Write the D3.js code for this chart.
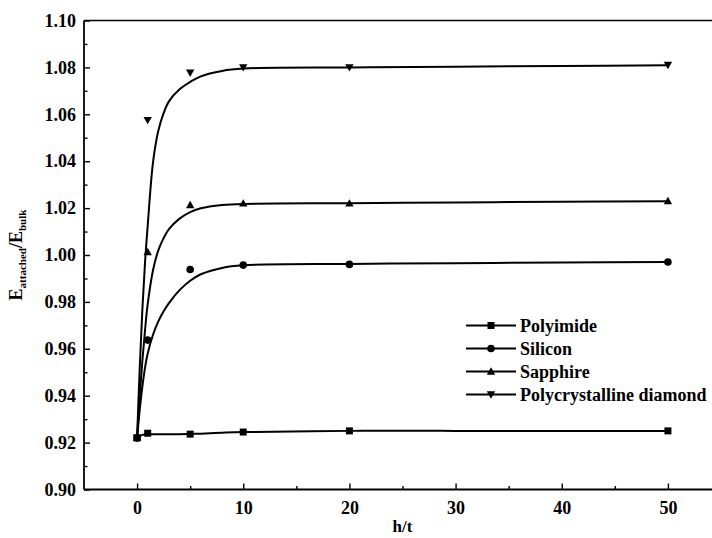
<!DOCTYPE html>
<html>
<head>
<meta charset="utf-8">
<script src="https://cdn.jsdelivr.net/npm/d3@7"></script>
<style>
  html, body { margin: 0; padding: 0; background: #fff; }
  svg { display: block; }
  svg text { font-family: "Times New Roman", Tinos, "Liberation Serif", "DejaVu Serif", serif !important; font-weight: bold; fill: #000; }
</style>
</head>
<body>
<svg id="chart" width="712" height="538"></svg>
<script>
// ---- data ----
const seriesNames = ["Polyimide", "Silicon", "Sapphire", "Polycrystalline diamond"];
const xValues = [0, 1, 5, 10, 20, 50];
const polyimide = [0.922, 0.924, 0.9236, 0.9245, 0.925, 0.925];
const silicon   = [0.922, 0.9637, 0.9938, 0.9957, 0.996, 0.997];
const sapphire  = [0.922, 1.0013, 1.0213, 1.022, 1.022, 1.023];
const diamond   = [0.922, 1.0575, 1.0777, 1.080, 1.080, 1.081];

// fitted curves, sampled by eye along the drawn lines
const fitX = [0, 0.25, 0.5, 0.75, 1, 1.5, 2, 2.5, 3, 4, 5, 6, 8, 10, 20, 30, 40, 50];
const polyimideFit = [0.922, 0.9228, 0.9233, 0.9235, 0.9236, 0.9236, 0.9236, 0.9236, 0.9236, 0.9236, 0.9237, 0.9238, 0.9242, 0.9245, 0.925, 0.925, 0.925, 0.925];
const siliconFit   = [0.922, 0.934, 0.944, 0.952, 0.958, 0.966, 0.9717, 0.976, 0.9795, 0.985, 0.989, 0.9918, 0.9945, 0.9956, 0.9962, 0.9965, 0.9968, 0.997];
const sapphireFit  = [0.922, 0.940, 0.955, 0.968, 0.979, 0.9935, 1.002, 1.0072, 1.011, 1.0155, 1.0183, 1.0199, 1.0213, 1.0218, 1.0221, 1.0224, 1.0227, 1.0229];
const diamondFit   = [0.922, 0.952, 0.977, 0.997, 1.0125, 1.0395, 1.0530, 1.0605, 1.0655, 1.0707, 1.0738, 1.0762, 1.0785, 1.0795, 1.0800, 1.0803, 1.0806, 1.0809];

const xMajorTicks = [0, 10, 20, 30, 40, 50];
const xMinorTicks = [5, 15, 25, 35, 45];
const yMajorTicks = [0.90, 0.92, 0.94, 0.96, 0.98, 1.00, 1.02, 1.04, 1.06, 1.08, 1.10];
const yMinorTicks = [0.91, 0.93, 0.95, 0.97, 0.99, 1.01, 1.03, 1.05, 1.07, 1.09];
const xTitle = "h/t";

// ---- layout ----
const svg = d3.select("#chart");
const x = d3.scaleLinear().domain([-5, 55]).range([84, 721]);
const y = d3.scaleLinear().domain([0.90, 1.10]).range([489.5, 20.5]);

const series = [
  { name: seriesNames[0], vals: polyimide, fit: polyimideFit, sym: "square" },
  { name: seriesNames[1], vals: silicon,   fit: siliconFit,   sym: "circle" },
  { name: seriesNames[2], vals: sapphire,  fit: sapphireFit,  sym: "up" },
  { name: seriesNames[3], vals: diamond,   fit: diamondFit,   sym: "down" }
];

function marker(g, sym, cx, cy) {
  if (sym === "square") {
    g.append("rect").attr("x", cx - 3.5).attr("y", cy - 3.5).attr("width", 7).attr("height", 7).attr("fill", "#000");
  } else if (sym === "circle") {
    g.append("circle").attr("cx", cx).attr("cy", cy).attr("r", 3.8).attr("fill", "#000");
  } else if (sym === "up") {
    g.append("path").attr("d", `M${cx},${cy - 4.2}L${cx + 4.2},${cy + 3.2}L${cx - 4.2},${cy + 3.2}Z`).attr("fill", "#000");
  } else {
    g.append("path").attr("d", `M${cx},${cy + 4.2}L${cx + 4.2},${cy - 3.2}L${cx - 4.2},${cy - 3.2}Z`).attr("fill", "#000");
  }
}

// frame: top line
svg.append("line").attr("x1", 84).attr("x2", 712).attr("y1", y(1.10)).attr("y2", y(1.10))
  .attr("stroke", "#000").attr("stroke-width", 1.6);

// x axis
const xAxis = d3.axisBottom(x).tickValues(xMajorTicks).tickSize(-6).tickPadding(12).tickFormat(d3.format("d"));
const gx = svg.append("g").attr("transform", `translate(0,${y(0.90)})`).call(xAxis).attr("font-family", null).attr("font-size", null);
gx.select(".domain").attr("d", `M84,0H712`).attr("stroke-width", 1.8);
gx.selectAll(".tick line").attr("stroke-width", 1.4);
gx.selectAll(".tick text").style("font-size", "18px");
const gxm = svg.append("g").attr("transform", `translate(0,${y(0.90)})`)
  .call(d3.axisBottom(x).tickValues(xMinorTicks).tickSize(-3.5).tickFormat(""));
gxm.select(".domain").remove();
gxm.selectAll(".tick line").attr("stroke-width", 1.4);

// y axis
const yAxis = d3.axisLeft(y).tickValues(yMajorTicks).tickSize(-6).tickPadding(8).tickFormat(d3.format(".2f"));
const gy = svg.append("g").attr("transform", `translate(84,0)`).call(yAxis).attr("font-family", null).attr("font-size", null);
gy.select(".domain").attr("d", `M0,${y(1.10)}V${y(0.90)}`).attr("stroke-width", 1.8);
gy.selectAll(".tick line").attr("stroke-width", 1.4);
gy.selectAll(".tick text").style("font-size", "18px");
const gym = svg.append("g").attr("transform", `translate(84,0)`)
  .call(d3.axisLeft(y).tickValues(yMinorTicks).tickSize(-3.5).tickFormat(""));
gym.select(".domain").remove();
gym.selectAll(".tick line").attr("stroke-width", 1.4);

// axis titles
svg.append("text").attr("x", x(25)).attr("y", 532).attr("text-anchor", "middle")
  .style("font-size", "17px").text(xTitle);
const yt = svg.append("text").attr("transform", `translate(22,${(y(0.90) + y(1.10)) / 2}) rotate(-90)`)
  .attr("text-anchor", "middle").style("font-size", "18px");
yt.append("tspan").text("E");
yt.append("tspan").attr("dy", 4).style("font-size", "11px").text("attached");
yt.append("tspan").attr("dy", -4).text("/E");
yt.append("tspan").attr("dy", 4).style("font-size", "11px").text("bulk");

// curves
const line = d3.line().x(d => x(d[0])).y(d => y(d[1])).curve(d3.curveCatmullRom.alpha(0.5));
const plot = svg.append("g");
series.forEach(s => {
  plot.append("path").attr("d", line(fitX.map((xv, i) => [xv, s.fit[i]])))
    .attr("fill", "none").attr("stroke", "#000").attr("stroke-width", 2);
});
series.forEach(s => {
  xValues.forEach((xv, i) => marker(plot, s.sym, x(xv), y(s.vals[i])));
});

// legend
const legend = svg.append("g");
series.forEach((s, i) => {
  const ly = 325.5 + i * 23;
  legend.append("line").attr("x1", 466).attr("x2", 516).attr("y1", ly).attr("y2", ly)
    .attr("stroke", "#000").attr("stroke-width", 2);
  marker(legend, s.sym, 491, ly);
  legend.append("text").attr("x", 520).attr("y", ly + 6).style("font-size", "18px").text(s.name);
});
</script>
</body>
</html>
